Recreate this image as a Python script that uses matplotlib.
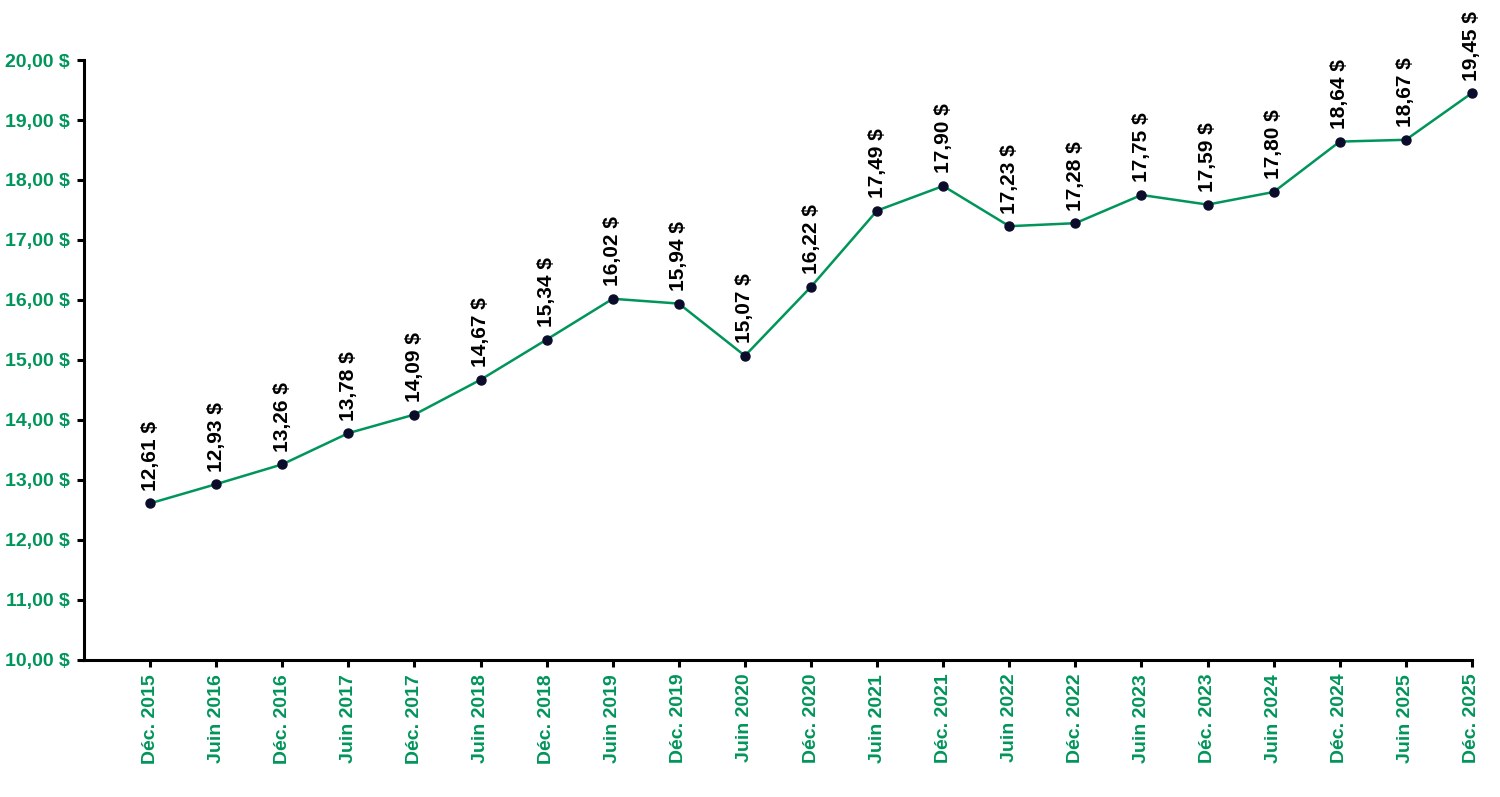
import matplotlib.pyplot as plt

plt.rcParams['font.family'] = ['Liberation Sans', 'DejaVu Sans']

periods = ["Déc. 2015", "Juin 2016", "Déc. 2016", "Juin 2017", "Déc. 2017",
           "Juin 2018", "Déc. 2018", "Juin 2019", "Déc. 2019", "Juin 2020",
           "Déc. 2020", "Juin 2021", "Déc. 2021", "Juin 2022", "Déc. 2022",
           "Juin 2023", "Déc. 2023", "Juin 2024", "Déc. 2024", "Juin 2025",
           "Déc. 2025"]
wages = [12.61, 12.93, 13.26, 13.78, 14.09, 14.67, 15.34, 16.02, 15.94, 15.07,
         16.22, 17.49, 17.90, 17.23, 17.28, 17.75, 17.59, 17.80, 18.64, 18.67,
         19.45]
y_ticks = [10, 11, 12, 13, 14, 15, 16, 17, 18, 19, 20]

green = "#00955A"
navy = "#0B0B2B"


def money(v):
    return ("%.2f" % v).replace(".", ",") + " $"


fig = plt.figure(figsize=(15, 7.97), dpi=100)
ax = fig.add_axes([0.056, 0.172, 0.9253, 0.7527])

x = list(range(len(wages)))
ax.plot(x, wages, color=green, lw=1.8, marker="o", ms=6.5,
        markerfacecolor=navy, markeredgecolor=navy, zorder=3, clip_on=False)

for xi, v in zip(x, wages):
    ax.annotate(money(v), (xi, v), xytext=(0, 9), textcoords="offset points",
                rotation=90, ha="center", va="bottom", fontsize=15,
                fontweight="bold", color="black", annotation_clip=False)

ax.set_xlim(-1, len(wages) - 1)
ax.set_ylim(10, 20)
ax.set_xticks(x)
ax.set_xticklabels(periods, rotation=90, fontsize=14, fontweight="bold", color=green)
ax.set_yticks(y_ticks)
ax.set_yticklabels([money(v) for v in y_ticks], fontsize=14,
                   fontweight="bold", color=green)

for s in ["top", "right"]:
    ax.spines[s].set_visible(False)
for s in ["left", "bottom"]:
    ax.spines[s].set_linewidth(2.2)
ax.tick_params(axis="both", direction="out", width=2.2, length=5)
ax.tick_params(axis="y", pad=5)
ax.tick_params(axis="x", pad=5)

fig.savefig("out.png", dpi=100)
